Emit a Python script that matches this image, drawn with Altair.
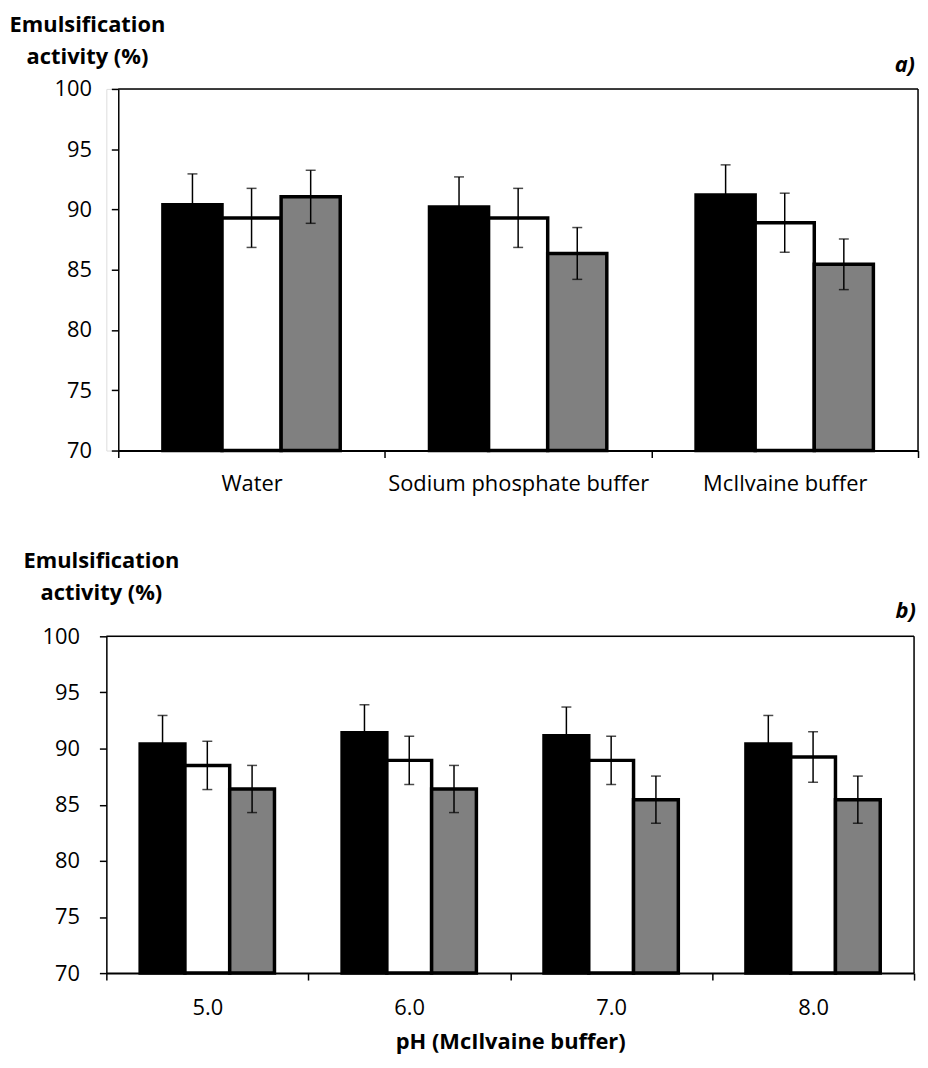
import altair as alt
import pandas as pd

# ---------------- data ----------------
series_names = ["Series 1", "Series 2", "Series 3"]
series_colors = ["#000000", "#ffffff", "#808080"]

solvents = ["Water", "Sodium phosphate buffer", "McIlvaine buffer"]
a_s1 = [90.4, 90.2, 91.2]
a_s2 = [89.3, 89.3, 88.9]
a_s3 = [91.05, 86.35, 85.45]
a_e1 = [2.55, 2.5, 2.5]
a_e2 = [2.45, 2.45, 2.45]
a_e3 = [2.2, 2.15, 2.1]

ph_values = ["5.0", "6.0", "7.0", "8.0"]
b_s1 = [90.4, 91.4, 91.15, 90.4]
b_s2 = [88.5, 88.95, 88.95, 89.25]
b_s3 = [86.4, 86.4, 85.45, 85.45]
b_e1 = [2.55, 2.5, 2.55, 2.55]
b_e2 = [2.15, 2.15, 2.15, 2.25]
b_e3 = [2.1, 2.1, 2.1, 2.1]

y_ticks = [70, 75, 80, 85, 90, 95, 100]
y_title_lines = ["Emulsification", "activity (%)"]
x_title_b = "pH (McIlvaine buffer)"

FONT = "Open Sans"
FS = 22


def build_df(cats, vals, errs):
    rows = []
    for s, v_list, e_list in zip(series_names, vals, errs):
        for c, v, e in zip(cats, v_list, e_list):
            rows.append({"cat": c, "series": s, "value": v, "lo": v - e, "hi": v + e})
    return pd.DataFrame(rows)


def make_panel(cats, vals, errs, width, height, x0, tag, tx, ty1, ty2, tag_x,
               tag_y, label_pad, xtitle=None):
    df = build_df(cats, vals, errs)
    x_axis_kwargs = dict(
        tickBand="extent", labelAngle=0, tickSize=7, tickColor="#000000",
        tickWidth=1.5, domainColor="#000000", domainWidth=2,
        labelFontSize=FS, labelColor="#000000", labelPadding=label_pad,
        labelFont=FONT, labelLimit=0,
    )
    if xtitle:
        x_axis_kwargs.update(title=xtitle, titleFontSize=FS, titleFont=FONT,
                             titleFontWeight="bold", titleColor="#000000",
                             titlePadding=13)
    else:
        x_axis_kwargs.update(title=None)
    x = alt.X("cat:N", sort=cats,
              scale=alt.Scale(paddingInner=0, paddingOuter=0, range=[x0, width]),
              axis=alt.Axis(**x_axis_kwargs))
    xo = alt.XOffset("series:N", sort=series_names,
                     scale=alt.Scale(paddingInner=0, paddingOuter=0.755))
    yscale = alt.Scale(domain=[70, 100], zero=False, nice=False)
    y_axis = alt.Axis(values=y_ticks, title=None, tickSize=7, tickColor="#000000",
                      tickWidth=1.5, domainColor="#000000", domainWidth=1.5,
                      labelFontSize=FS, labelColor="#000000", labelPadding=20,
                      labelFont=FONT, grid=False, offset=-x0)
    base = alt.Chart(df)
    bars = base.mark_bar(stroke="#000000", strokeWidth=3.5).encode(
        x=x, xOffset=xo,
        y=alt.Y("value:Q", scale=yscale, axis=y_axis),
        y2=alt.datum(70),
        color=alt.Color("series:N", sort=series_names,
                        scale=alt.Scale(domain=series_names, range=series_colors),
                        legend=None),
    )
    rules = base.mark_rule(color="#000000", strokeWidth=1.5).encode(
        x=x, xOffset=xo, y=alt.Y("lo:Q", scale=yscale), y2="hi:Q")
    caps_hi = base.mark_tick(color="#000000", thickness=1.5, size=10).encode(
        x=x, xOffset=xo, y=alt.Y("hi:Q", scale=yscale))
    caps_lo = base.mark_tick(color="#000000", thickness=1.5, size=10).encode(
        x=x, xOffset=xo, y=alt.Y("lo:Q", scale=yscale))

    one = pd.DataFrame({"k": [0]})
    frame_top = alt.Chart(one).mark_rule(color="#000000", strokeWidth=1.5).encode(
        x=alt.value(x0), x2=alt.value(width), y=alt.value(0))
    frame_right = alt.Chart(one).mark_rule(color="#000000", strokeWidth=1.5).encode(
        x=alt.value(width), y=alt.value(0), y2=alt.value(height))

    def txt(s, xv, yv, **kw):
        return alt.Chart(pd.DataFrame({"t": [s]})).mark_text(
            font=FONT, color="#000000", baseline="alphabetic", **kw).encode(
            text="t:N", x=alt.value(xv), y=alt.value(yv))

    t1 = txt(y_title_lines[0], tx, ty1, fontSize=FS, fontWeight="bold", align="center")
    t2 = txt(y_title_lines[1], tx, ty2, fontSize=FS, fontWeight="bold", align="center")
    tg = txt(tag, tag_x, tag_y, fontSize=FS, fontWeight="bold",
             fontStyle="italic", align="right")
    layers = [bars, rules, caps_hi, caps_lo, frame_top, frame_right, t1, t2, tg]
    return alt.layer(*layers).properties(width=width, height=height)


panel_a = make_panel(solvents, [a_s1, a_s2, a_s3], [a_e1, a_e2, a_e3],
                     817, 364, 12, "a)", -19, -57, -25, 814, -17, 16)
panel_b = make_panel(ph_values, [b_s1, b_s2, b_s3], [b_e1, b_e2, b_e3],
                     813, 339, 0, "b)", -5, -69, -37, 815, -18, 18,
                     xtitle=x_title_b)

chart = alt.vconcat(panel_a, panel_b, spacing=54).resolve_scale(
    xOffset="independent", color="independent"
).properties(
    padding={"left": 1, "top": 2, "right": 0, "bottom": 0}
).configure_view(strokeWidth=0).configure(background="#ffffff")

chart.save("out.html", embed_options={"renderer": "svg", "actions": False})
